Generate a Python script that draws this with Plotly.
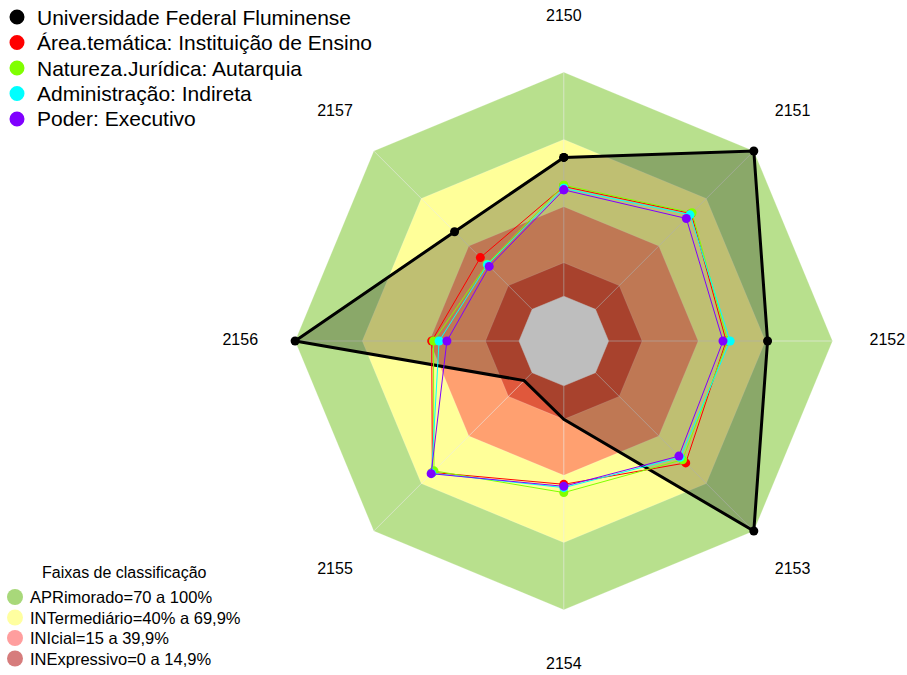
import plotly.graph_objects as go

# ---------------- data ----------------
categories = ["2150", "2151", "2152", "2153", "2154", "2155", "2156", "2157"]

series_names = [
    "Universidade Federal Fluminense",
    "Área.temática: Instituição de Ensino",
    "Natureza.Jurídica: Autarquia",
    "Administração: Indireta",
    "Poder: Executivo",
]
uff = [62, 100, 71, 100, 15, 5, 100, 49]
area_tematica = [49, 60.5, 52.5, 57, 44, 63, 39, 32.7]
natureza_juridica = [49.6, 61, 53.2, 55, 47.7, 62, 38.2, 28.5]
administracao = [48.2, 59.7, 54.3, 53.5, 45.5, 63.5, 35.7, 28.2]
poder = [47.5, 57.4, 51.1, 52.7, 44.9, 63.8, 32.2, 27.1]
series_values = [uff, area_tematica, natureza_juridica, administracao, poder]
series_colors = ["#000000", "#FF0000", "#80FF00", "#00FFFF", "#8000FF"]

legend2_title = "Faixas de classificação"
band_labels = [
    "APRimorado=70 a 100%",
    "INTermediário=40% a 69,9%",
    "INIcial=15 a 39,9%",
    "INExpressivo=0 a 14,9%",
]
band_upper = [100, 70, 40, 15]
band_fill = ["rgb(184,224,141)", "rgb(255,255,153)", "rgb(255,160,112)", "rgb(224,88,60)"]
band_legend_colors = ["rgb(168,216,122)", "rgb(255,255,160)", "rgb(255,158,158)", "rgb(214,124,124)"]
center_value = 0
scale_max = 100
radial_min, radial_max = -20, 125
label_r = 124.5

FONT = "Liberation Sans, Arial, sans-serif"
W, H = 907, 675


def closed(v):
    return list(v) + [v[0]]


def px_x(x):
    return x / W


def px_y(y):
    return 1 - y / H


theta_closed = closed(categories)

fig = go.Figure()

# classification bands
for up, col in zip(band_upper, band_fill):
    fig.add_trace(go.Scatterpolar(
        r=closed([up] * len(categories)), theta=theta_closed,
        mode="lines", fill="toself", fillcolor=col,
        line=dict(color="rgba(255,255,255,0.2)", width=1),
        hoverinfo="skip", showlegend=False))

# spokes
for c in categories:
    fig.add_trace(go.Scatterpolar(
        r=[center_value, scale_max], theta=[c, c], mode="lines",
        line=dict(color="rgba(235,235,235,0.6)", width=1),
        hoverinfo="skip", showlegend=False))

# main series (black, filled)
fig.add_trace(go.Scatterpolar(
    r=closed(uff), theta=theta_closed, mode="lines+markers",
    fill="toself", fillcolor="rgba(0,0,0,0.25)",
    line=dict(color="#000000", width=3),
    marker=dict(color="#000000", size=9),
    showlegend=False, name=series_names[0]))

# grey centre
fig.add_trace(go.Scatterpolar(
    r=closed([center_value] * len(categories)), theta=theta_closed,
    mode="lines", fill="toself", fillcolor="rgb(190,190,190)",
    line=dict(color="rgb(190,190,190)", width=0.5),
    hoverinfo="skip", showlegend=False))

# comparison series
for name, vals, col in zip(series_names[1:], series_values[1:], series_colors[1:]):
    fig.add_trace(go.Scatterpolar(
        r=closed(vals), theta=theta_closed, mode="lines+markers",
        line=dict(color=col, width=1),
        marker=dict(color=col, size=9),
        showlegend=False, name=name))

# category labels
fig.add_trace(go.Scatterpolar(
    r=[label_r] * len(categories), theta=categories, mode="text",
    text=categories, textposition="middle center",
    textfont=dict(family=FONT, size=16, color="#000000"),
    cliponaxis=False, hoverinfo="skip", showlegend=False))

# ---------------- hand-built legends ----------------
shapes = []
annotations = []

# legend 1 (series)
L1_X_MARK, L1_X_TEXT, L1_Y0, L1_DY, L1_D = 17, 35, 17, 25.5, 15
for i, (name, col) in enumerate(zip(series_names, series_colors)):
    yc = L1_Y0 + i * L1_DY
    shapes.append(dict(type="circle", xref="paper", yref="paper",
                       x0=px_x(L1_X_MARK - L1_D / 2), x1=px_x(L1_X_MARK + L1_D / 2),
                       y0=px_y(yc + L1_D / 2), y1=px_y(yc - L1_D / 2),
                       fillcolor=col, line=dict(width=0)))
    annotations.append(dict(xref="paper", yref="paper", x=px_x(L1_X_TEXT), y=px_y(yc),
                            xanchor="left", yanchor="middle", showarrow=False,
                            text=name, font=dict(family=FONT, size=21, color="#000000")))

# legend 2 (classification bands)
annotations.append(dict(xref="paper", yref="paper", x=px_x(124), y=px_y(572),
                        xanchor="center", yanchor="middle", showarrow=False,
                        text=legend2_title, font=dict(family=FONT, size=16, color="#000000")))
L2_X_MARK, L2_X_TEXT, L2_Y0, L2_DY, L2_D = 15, 28, 597, 20.5, 16
for i, (name, col) in enumerate(zip(band_labels, band_legend_colors)):
    yc = L2_Y0 + i * L2_DY
    shapes.append(dict(type="circle", xref="paper", yref="paper",
                       x0=px_x(L2_X_MARK - L2_D / 2), x1=px_x(L2_X_MARK + L2_D / 2),
                       y0=px_y(yc + L2_D / 2), y1=px_y(yc - L2_D / 2),
                       fillcolor=col, line=dict(width=0)))
    annotations.append(dict(xref="paper", yref="paper", x=px_x(L2_X_TEXT), y=px_y(yc),
                            xanchor="left", yanchor="middle", showarrow=False,
                            text=name, font=dict(family=FONT, size=16.5, color="#000000")))

# polar geometry: centre (563.8, 341) px, r=100 at 268.7 px
CX, CY, R100 = 563.8, 341.0, 268.7
RDOM = R100 * (radial_max - radial_min) / (scale_max - radial_min)

fig.update_layout(
    width=W, height=H,
    margin=dict(l=0, r=0, t=0, b=0),
    paper_bgcolor="white", plot_bgcolor="white",
    font=dict(family=FONT, color="#000000"),
    showlegend=False,
    shapes=shapes, annotations=annotations,
    polar=dict(
        domain=dict(x=[px_x(CX - RDOM), px_x(CX + RDOM)],
                    y=[px_y(CY + RDOM), px_y(CY - RDOM)]),
        bgcolor="rgba(0,0,0,0)",
        gridshape="linear",
        radialaxis=dict(range=[radial_min, radial_max], visible=False),
        angularaxis=dict(type="category", rotation=90, direction="clockwise",
                         showgrid=False, showline=False, showticklabels=False,
                         ticks=""),
    ),
)

fig.write_html("out.html", config={"displayModeBar": False},
               post_script="document.body.style.margin='0';")
